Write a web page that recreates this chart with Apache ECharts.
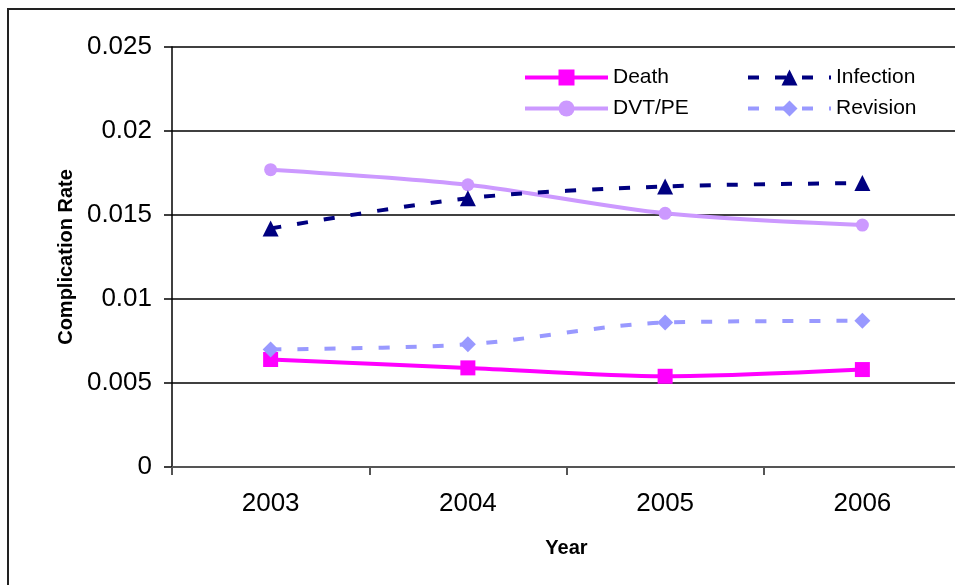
<!DOCTYPE html>
<html>
<head>
<meta charset="utf-8">
<script src="https://cdn.jsdelivr.net/npm/echarts@6/dist/echarts.min.js"></script>
<style>
html,body{margin:0;padding:0;background:#fff;overflow:hidden;width:955px;height:585px;}
#frame{position:absolute;left:7px;top:8px;width:2000px;height:2000px;border:2px solid #222;}
#chart{position:absolute;left:0;top:0;width:990px;height:585px;}
</style>
</head>
<body>
<div id="frame"></div>
<div id="chart"></div>
<script>
const years = ['2003', '2004', '2005', '2006'];
const death = [0.0064, 0.0059, 0.0054, 0.0058];
const dvtpe = [0.0177, 0.0168, 0.0151, 0.0144];
const infection = [0.0142, 0.0160, 0.0167, 0.0169];
const revision = [0.0070, 0.0073, 0.0086, 0.0087];

const FONT = '"Liberation Sans", Arial, sans-serif';
const chart = echarts.init(document.getElementById('chart'));

const legendText = { fontFamily: FONT, fontSize: 21, color: '#000', lineHeight: 20 };

chart.setOption({
  animation: false,
  backgroundColor: 'transparent',
  grid: { left: 172, top: 47, width: 789, height: 420, show: false },
  legend: [{
    data: ['Death', 'DVT/PE'], orient: 'vertical', left: 518, top: 62,
    itemWidth: 83, itemHeight: 20, itemGap: 10,
    lineStyle: { width: 4 },
    textStyle: legendText
  }, {
    data: ['Infection', 'Revision'], orient: 'vertical', left: 741, top: 62,
    itemWidth: 83, itemHeight: 20, itemGap: 10,
    lineStyle: { width: 4 },
    textStyle: legendText
  }],
  xAxis: {
    type: 'category', data: years, boundaryGap: true,
    name: 'Year', nameLocation: 'middle', nameGap: 71,
    nameTextStyle: { fontFamily: FONT, fontSize: 20, fontWeight: 'bold', color: '#000' },
    axisLine: { lineStyle: { color: '#555', width: 2 } },
    axisTick: { show: true, length: 8, lineStyle: { color: '#555', width: 2 } },
    axisLabel: { fontFamily: FONT, fontSize: 26, color: '#000', margin: 24 },
    splitLine: { show: false }
  },
  yAxis: {
    type: 'value', min: 0, max: 0.025, interval: 0.005,
    name: 'Complication Rate', nameLocation: 'middle', nameGap: 96, nameRotate: 90,
    nameTextStyle: { fontFamily: FONT, fontSize: 20, fontWeight: 'bold', color: '#000' },
    axisLine: { show: true, lineStyle: { color: '#000', width: 1.5 } },
    axisTick: { show: true, length: 8, lineStyle: { color: '#000', width: 1.5 } },
    axisLabel: { fontFamily: FONT, fontSize: 26, color: '#000', margin: 20,
      formatter: v => String(+v.toFixed(3)) },
    splitLine: { show: true, lineStyle: { color: '#000', width: 1.5 } }
  },
  series: [{
    name: 'Death', type: 'line', data: death, smooth: 0.3,
    symbol: 'rect', symbolSize: 15,
    lineStyle: { color: '#FF00FF', width: 4 },
    itemStyle: { color: '#FF00FF' }
  }, {
    name: 'DVT/PE', type: 'line', data: dvtpe, smooth: 0.3,
    symbol: 'circle', symbolSize: 13,
    lineStyle: { color: '#CC99FF', width: 4 },
    itemStyle: { color: '#CC99FF' }
  }, {
    name: 'Infection', type: 'line', data: infection, smooth: 0.3,
    symbol: 'triangle', symbolSize: 16,
    lineStyle: { color: '#000080', width: 4, type: [11, 16] },
    itemStyle: { color: '#000080' }
  }, {
    name: 'Revision', type: 'line', data: revision, smooth: 0.3,
    symbol: 'diamond', symbolSize: 16,
    lineStyle: { color: '#9999FF', width: 4, type: [11, 16] },
    itemStyle: { color: '#9999FF' }
  }]
});
</script>
</body>
</html>
